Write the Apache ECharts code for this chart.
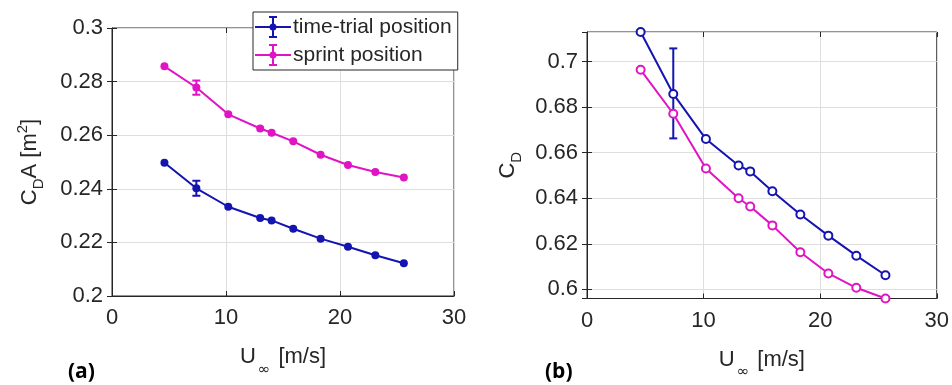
<!DOCTYPE html>
<html>
<head>
<meta charset="utf-8">
<script src="https://cdn.jsdelivr.net/npm/echarts@6/dist/echarts.min.js"></script>
<style>
html,body{margin:0;padding:0;background:#fff;}
#c{width:952px;height:385px;}
</style>
</head>
<body>
<div id="c"></div>
<script>
// ---- data ----
const speeds = [4.6, 7.4, 10.2, 13.0, 14.0, 15.9, 18.3, 20.7, 23.1, 25.6];
const cdaTimeTrial = [0.2497, 0.2402, 0.2333, 0.2291, 0.2282, 0.2251, 0.2214, 0.2184, 0.2152, 0.2122];
const cdaSprint = [0.2857, 0.2778, 0.2678, 0.2625, 0.2609, 0.2577, 0.2527, 0.2489, 0.2463, 0.2442];
const cdTimeTrial = [0.713, 0.6858, 0.666, 0.6544, 0.6518, 0.6431, 0.6329, 0.6236, 0.6148, 0.6062];
const cdSprint = [0.6964, 0.6771, 0.6531, 0.6400, 0.6364, 0.6281, 0.6163, 0.6070, 0.6007, 0.596];
// error bars: [speed, low, high]
const cdaTimeTrialErr = [[7.4, 0.2374, 0.2430]];
const cdaSprintErr = [[7.4, 0.2751, 0.2804]];
const cdTimeTrialErr = [[7.4, 0.6663, 0.7058]];
const seriesNames = ['time-trial position', 'sprint position'];
const xTicks = [0, 10, 20, 30];

const BLUE = '#1414b0';
const MAG = '#e014c4';
const AX = '#262626';
const GRID = '#dedede';
const FONT = 'Liberation Sans';

const chart = echarts.init(document.getElementById('c'));

function pair(xs, ys) { return xs.map((x, i) => [x, ys[i]]); }

function errSeries(data, color, xi, yi) {
  return {
    type: 'custom', xAxisIndex: xi, yAxisIndex: yi, z: 4,
    data: data,
    renderItem: function (params, api) {
      const x = api.value(0);
      const lo = api.coord([x, api.value(1)]);
      const hi = api.coord([x, api.value(2)]);
      const w = 4;
      const st = { stroke: color, lineWidth: 2 };
      return {
        type: 'group',
        children: [
          { type: 'line', shape: { x1: lo[0], y1: lo[1], x2: hi[0], y2: hi[1] }, style: st },
          { type: 'line', shape: { x1: lo[0] - w, y1: lo[1], x2: lo[0] + w, y2: lo[1] }, style: st },
          { type: 'line', shape: { x1: hi[0] - w, y1: hi[1], x2: hi[0] + w, y2: hi[1] }, style: st }
        ]
      };
    }
  };
}

function lineSeries(name, data, color, xi, yi, symbol) {
  return {
    name: name, type: 'line', xAxisIndex: xi, yAxisIndex: yi, z: 5,
    data: data, symbol: symbol, symbolSize: 8, showSymbol: true,
    lineStyle: { color: color, width: 2 },
    itemStyle: { color: color, borderColor: color, borderWidth: symbol === 'emptyCircle' ? 2.5 : 0 },
    emphasis: { disabled: true }
  };
}

const tickLabel = { fontFamily: FONT, fontSize: 22, color: AX };

function mainX(gi) {
  return {
    type: 'value', gridIndex: gi, min: 0, max: 30, interval: 10, position: 'bottom',
    axisLine: { lineStyle: { color: AX, width: 1 } },
    axisTick: { inside: true, length: 5, lineStyle: { color: AX } },
    axisLabel: Object.assign({ margin: 11 }, tickLabel),
    splitLine: { show: true, lineStyle: { color: GRID, width: 1 } },
    name: '{n|U}{s|∞}{n| [m/s]}', nameLocation: 'middle', nameGap: 46,
    nameTextStyle: {
      rich: {
        n: { fontFamily: FONT, fontSize: 22, color: AX, lineHeight: 30 },
        s: { fontFamily: 'DejaVu Sans', fontSize: 15, color: AX, padding: [26, 2, 0, 2], lineHeight: 16 }
      }
    }
  };
}
function topX(gi) {
  return {
    type: 'value', gridIndex: gi, min: 0, max: 30, interval: 10, position: 'top',
    axisLine: { show: false },
    axisTick: { inside: true, length: 5, lineStyle: { color: AX } },
    axisLabel: { show: false }, splitLine: { show: false }
  };
}

const option = {
  animation: false,
  backgroundColor: '#ffffff',
  grid: [
    { left: 112, top: 28, width: 342, height: 268, show: true, borderColor: AX, borderWidth: 1, backgroundColor: 'transparent' },
    { left: 587, top: 32, width: 350, height: 268, show: true, borderColor: AX, borderWidth: 1, backgroundColor: 'transparent' }
  ],
  xAxis: [mainX(0), mainX(1), topX(0), topX(1)],
  yAxis: [
    {
      type: 'value', gridIndex: 0, min: 0.2, max: 0.3, interval: 0.02,
      axisLine: { show: true, lineStyle: { color: AX } },
      axisTick: { show: true, inside: true, length: 5, lineStyle: { color: AX } },
      axisLabel: Object.assign({ margin: 9, formatter: v => +v.toFixed(2) + '' }, tickLabel),
      splitLine: { show: true, lineStyle: { color: GRID } },
      name: '{n|C}{s|D}{n|A [m}{p|2}{n|]}', nameLocation: 'middle', nameGap: 67, nameRotate: 90,
      nameTextStyle: {
        rich: {
          n: { fontFamily: FONT, fontSize: 22, color: AX, lineHeight: 30 },
          s: { fontFamily: FONT, fontSize: 15, color: AX, padding: [18, 0, 0, 0], lineHeight: 16 },
          p: { fontFamily: FONT, fontSize: 15, color: AX, padding: [0, 0, 14, 0], lineHeight: 16 }
        }
      }
    },
    {
      type: 'value', gridIndex: 1, min: 0.596, max: 0.713, splitNumber: 5,
      axisLine: { show: true, lineStyle: { color: AX } },
      axisTick: { show: true, inside: true, length: 5, lineStyle: { color: AX } },
      axisLabel: Object.assign({ margin: 9, showMinLabel: false, showMaxLabel: false, formatter: v => +v.toFixed(2) + '' }, tickLabel),
      splitLine: { show: true, lineStyle: { color: GRID } },
      name: '{n|C}{s|D}', nameLocation: 'middle', nameGap: 64, nameRotate: 90,
      nameTextStyle: {
        rich: {
          n: { fontFamily: FONT, fontSize: 22, color: AX, lineHeight: 30 },
          s: { fontFamily: FONT, fontSize: 15, color: AX, padding: [18, 0, 0, 0], lineHeight: 16 }
        }
      }
    },
    {
      type: 'value', gridIndex: 0, min: 0.2, max: 0.3, interval: 0.02, position: 'right',
      axisLine: { show: false }, axisTick: { inside: true, length: 5, lineStyle: { color: AX } },
      axisLabel: { show: false }, splitLine: { show: false }
    },
    {
      type: 'value', gridIndex: 1, min: 0.596, max: 0.713, splitNumber: 5, position: 'right',
      axisLine: { show: false }, axisTick: { inside: true, length: 5, lineStyle: { color: AX } },
      axisLabel: { show: false }, splitLine: { show: false }
    }
  ],
  legend: {
    data: seriesNames,
    orient: 'vertical', left: 253, top: 12,
    backgroundColor: '#ffffff', borderColor: AX, borderWidth: 1,
    padding: [4, 6, 4, 2], itemGap: 6, itemWidth: 36, itemHeight: 22,
    icon: 'path://M0,10 h36 v2 h-36 z M17,0 h2 v22 h-2 z M14,0 h8 v2 h-8 z M14,20 h8 v2 h-8 z M14.5,11 a3.5,3.5 0 1,1 7,0 a3.5,3.5 0 1,1 -7,0 z',
    textStyle: { fontFamily: FONT, fontSize: 21, color: AX, padding: [0, 0, 0, -3] },
    selectedMode: false
  },
  graphic: [
    { type: 'text', left: 68, top: 362, style: { text: '(a)', font: 'bold 21px "Open Sans"', fill: '#000' } },
    { type: 'text', left: 545, top: 362, style: { text: '(b)', font: 'bold 21px "Open Sans"', fill: '#000' } }
  ],
  series: [
    lineSeries(seriesNames[0], pair(speeds, cdaTimeTrial), BLUE, 0, 0, 'circle'),
    lineSeries(seriesNames[1], pair(speeds, cdaSprint), MAG, 0, 0, 'circle'),
    errSeries(cdaTimeTrialErr, BLUE, 0, 0),
    errSeries(cdaSprintErr, MAG, 0, 0),
    lineSeries(seriesNames[0], pair(speeds, cdTimeTrial), BLUE, 1, 1, 'emptyCircle'),
    lineSeries(seriesNames[1], pair(speeds, cdSprint), MAG, 1, 1, 'emptyCircle'),
    errSeries(cdTimeTrialErr, BLUE, 1, 1)
  ]
};
chart.setOption(option);
</script>
</body>
</html>
